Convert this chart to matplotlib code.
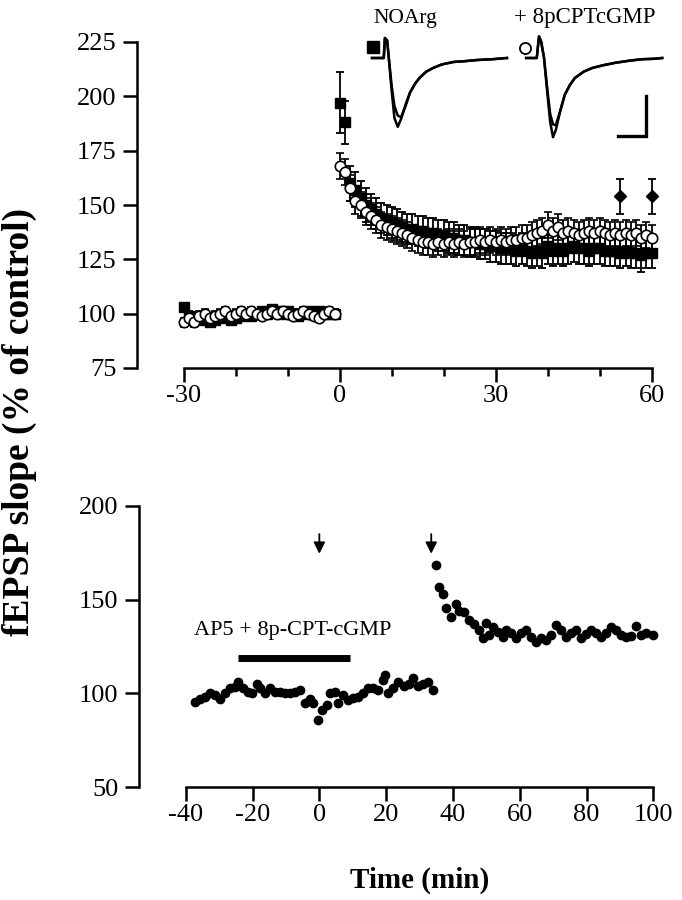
import numpy as np
import matplotlib
matplotlib.use("Agg")
import matplotlib.pyplot as plt

plt.rcParams['font.family'] = ['Liberation Serif', 'DejaVu Serif']
plt.rcParams['axes.unicode_minus'] = False

# ---------------- data: top panel ----------------
base_t = list(range(-30, 0))
sq_base = [103, 99, 97, 98, 97, 96, 97, 98, 99, 97, 98, 99, 100, 99, 100,
           101, 100, 102, 101, 100, 101, 100, 99, 100, 101, 100, 101, 100, 100, 100]
ci_base = [96, 98, 96, 99, 100, 98, 99, 100, 101, 99, 100, 101, 100, 101, 100,
           99, 100, 101, 100, 101, 100, 99, 100, 101, 100, 99, 98, 100, 101, 100]
base_err = [2.0] * 30

post_t = list(range(0, 61))
sq_post = [197, 188, 160, 157, 153, 150, 148, 146, 144, 143, 142, 141, 140, 139, 139,
           138, 138, 137, 137, 136, 136, 135, 135, 134, 134, 133, 133, 132, 132, 131,
           131, 130, 130, 130, 129, 130, 129, 128, 129, 128, 131, 129, 130, 129, 130,
           131, 130, 130, 129, 130, 130, 129, 129, 129, 128, 129, 128, 128, 127, 128, 128]
sq_err = [14, 10, 8, 8, 8, 8, 7, 7, 7, 7, 7, 7, 7, 7, 7,
          7, 7, 7, 7, 7, 7, 7, 7, 7, 7, 7, 7, 7, 7, 7,
          7, 7, 7, 7, 7, 7, 7, 7, 7, 7, 8, 7, 7, 7, 7,
          7, 7, 7, 7, 7, 7, 7, 7, 7, 7, 7, 7, 7, 8, 7, 7]
ci_post = [168, 165, 158, 152, 150, 147, 145, 143, 141, 140, 139, 138, 137, 136, 135,
           134, 133, 133, 132, 133, 132, 133, 132, 133, 132, 133, 133, 134, 133, 134,
           133, 134, 133, 134, 134, 135, 135, 136, 137, 138, 141, 138, 140, 137, 138,
           137, 136, 137, 138, 137, 138, 137, 136, 137, 136, 137, 136, 137, 135, 136, 135]
ci_err = [6] * 61

dia_t = [54, 60]
dia_v = [154, 154]
dia_err = [8, 8]

# example traces (ms, mV)
tr1_t = [-2.5, -0.4, -0.2, 0.2, 0.5, 1.0, 1.5, 2.1, 2.7, 3.5, 4.3, 5.2, 6.1, 7.2, 8.4,
         10, 12, 14, 16.3, 19, 21.6]
tr1_a = [0, 0, 0.25, 0.22, 0.0, -0.40, -0.75, -0.86, -0.76, -0.58, -0.43, -0.32, -0.24,
         -0.17, -0.125, -0.08, -0.05, -0.04, -0.025, -0.015, 0]
tr1_b = [0, 0, 0.25, 0.22, 0.0, -0.34, -0.60, -0.72, -0.74, -0.60, -0.43, -0.32, -0.24,
         -0.17, -0.125, -0.08, -0.05, -0.04, -0.025, -0.015, 0]
tr2_t = [-2.3, -0.4, 0.0, 0.4, 0.9, 1.5, 2.0, 2.5, 3.0, 3.8, 4.6, 5.5, 6.4, 8.0, 9.5,
         11.5, 13.6, 16, 18.4, 20.5, 22]
tr2_a = [0, 0, 0.27, 0.2, 0.0, -0.45, -0.80, -0.99, -0.90, -0.66, -0.46, -0.34, -0.25,
         -0.17, -0.125, -0.09, -0.06, -0.035, -0.015, -0.01, 0]
tr2_b = [0, 0, 0.27, 0.2, 0.0, -0.40, -0.70, -0.83, -0.84, -0.66, -0.46, -0.34, -0.25,
         -0.17, -0.125, -0.09, -0.06, -0.035, -0.015, -0.01, 0]

# ---------------- data: bottom panel ----------------
b1_t = [-37.2, -35.7, -34.2, -32.7, -31.2, -29.7, -28.2, -26.7, -25.2, -24.3, -22.8,
        -21.3, -20.1, -18.6, -17.7, -16.2, -14.7, -13.2, -11.7, -10.2, -8.7, -7.2,
        -5.7, -4.2, -2.7, -1.8, -0.3, 0.9, 2.4, 3.3, 4.8, 5.7, 7.2, 8.7, 10.2, 11.7,
        13.2, 14.7, 16.2, 17.7, 19.2, 19.8, 20.7, 22.2, 23.7, 25.2, 26.7, 27.9, 29.4,
        30.9, 32.4, 33.9]
b1_v = [95.4, 96.8, 97.9, 100, 99, 97, 100, 102.6, 103.3, 106, 103, 100.5, 100, 105,
        102.6, 100, 103, 100.5, 100.5, 100, 100, 100.5, 101.6, 95, 97, 94.6, 85.6, 91,
        93.6, 100, 100.5, 95, 99, 96.3, 97.3, 98, 100, 103, 102.6, 102, 107, 109.6, 100,
        103, 106, 104, 105, 108, 104, 105, 106, 101.6]
b2_t = [34.8, 35.7, 36.9, 37.8, 39.3, 40.8, 41.7, 43.2, 44.7, 46.2, 47.7, 48.9, 49.8,
        50.7, 51.9, 53.4, 54.9, 55.8, 57.3, 58.8, 60.3, 61.8, 63.3, 64.8, 66.3, 67.8,
        69.3, 70.8, 72.3, 73.8, 75.3, 76.8, 78.3, 79.8, 81.3, 82.8, 84.3, 85.8, 87.3,
        88.8, 90.3, 91.8, 93.3, 94.8, 96.3, 97.8, 99.9]
b2_v = [168.3, 156.6, 152.8, 145.4, 140.5, 147.5, 143.8, 143.3, 139, 136.8, 134, 129.3,
        137.3, 131, 135.2, 133, 130, 134, 132, 129.3, 132, 133.6, 130, 127.3, 129.3,
        128.3, 131, 136.3, 133.6, 130, 132, 134, 129.3, 131.5, 134, 132, 130, 132,
        135.2, 133.6, 131, 130, 130.5, 135.7, 131, 132, 131]
arrow_t = [0, 33.5]
bar_start, bar_end, bar_level = -24.5, 9.3, 119

W, H = 682, 900
fig = plt.figure(figsize=(W / 100, H / 100), dpi=100)

def fr(x0, y0, x1, y1):
    return [x0 / W, 1 - y1 / H, (x1 - x0) / W, (y1 - y0) / H]

TICKFS = 19
SP_LW = 1.8

def style(ax):
    for s in ['top', 'right']:
        ax.spines[s].set_visible(False)
    for s in ['left', 'bottom']:
        ax.spines[s].set_linewidth(SP_LW)
    ax.tick_params(direction='out', width=1.8, length=10, labelsize=TICKFS)
    ax.tick_params(which='minor', direction='out', width=1.8, length=5.5)

# ---------- top panel ----------
ax1 = fig.add_axes(fr(137, 42, 662, 368))
style(ax1)
ax1.set_xlim(-39, 62)
ax1.set_ylim(75, 225)
ax1.spines['left'].set_bounds(75, 225)
ax1.spines['bottom'].set_bounds(-30, 60)
ax1.set_yticks([75, 100, 125, 150, 175, 200, 225])
ax1.set_xticks([-30, 0, 30, 60])
ax1.set_xticks([-20, -10, 10, 20, 40, 50], minor=True)
ax1.tick_params(axis='y', pad=5)
ax1.tick_params(axis='x', pad=2)

ekw = dict(ecolor='black', elinewidth=1.3, capsize=3.2, capthick=1.3, linestyle='none')
ax1.errorbar(base_t, sq_base, yerr=base_err, fmt='s', ms=7.5, mfc='black', mec='black', **ekw, zorder=3)
ax1.errorbar(post_t, sq_post, yerr=sq_err, fmt='s', ms=7.5, mfc='black', mec='black', **ekw, zorder=3)
ax1.errorbar(base_t, ci_base, yerr=base_err, fmt='o', ms=7.5, mfc='white', mec='black', mew=1.2, **ekw, zorder=4)
ax1.errorbar(post_t, ci_post, yerr=ci_err, fmt='o', ms=7.5, mfc='white', mec='black', mew=1.2, **ekw, zorder=4)
ax1.errorbar(dia_t, dia_v, yerr=dia_err, fmt='D', ms=6.5, mfc='black', mec='black', **ekw, zorder=5)

# insets with example traces (5.6 px/ms, 80 px/mV)
def trace_ax(stim_x):
    left = stim_x - 3.5 * 5.6
    right = stim_x + 22.5 * 5.6
    top = 58 - 0.35 * 80
    bot = 58 + 1.05 * 80
    a = fig.add_axes(fr(left, top, right, bot))
    a.set_xlim(-3.5, 22.5)
    a.set_ylim(-1.05, 0.35)
    a.axis('off')
    return a

ti1 = trace_ax(386)
ti1.plot(tr1_t, tr1_a, color='black', lw=1.8)
ti1.plot(tr1_t, tr1_b, color='black', lw=1.8)
ti1.plot([-2.3], [0.14], marker='s', ms=8, color='black')
ti2 = trace_ax(539)
ti2.plot(tr2_t, tr2_a, color='black', lw=1.8)
ti2.plot(tr2_t, tr2_b, color='black', lw=1.8)
ti2.plot([-2.5], [0.13], marker='o', ms=8, mfc='white', mec='black', mew=1.3)
ti2.plot([14.1, 19.1, 19.1], [-0.975, -0.975, -0.475], color='black', lw=2.4, solid_joinstyle='miter')

fig.text(405 / W, 1 - 18 / H, 'NOArg', ha='center', va='center', fontsize=15.5)
fig.text(585 / W, 1 - 18 / H, '+ 8pCPTcGMP', ha='center', va='center', fontsize=16.5)

# ---------- bottom panel ----------
ax2 = fig.add_axes(fr(139, 506, 660, 787))
style(ax2)
ax2.set_xlim(-54, 102)
ax2.set_ylim(50, 200)
ax2.spines['left'].set_bounds(50, 200)
ax2.spines['bottom'].set_bounds(-40, 100)
ax2.set_yticks([50, 100, 150, 200])
ax2.set_xticks(list(range(-40, 101, 20)))
ax2.tick_params(axis='y', pad=5)
ax2.tick_params(axis='x', pad=2)
ax2.plot(b1_t, b1_v, 'o', ms=6, color='black')
ax2.plot(b2_t, b2_v, 'o', ms=6, color='black')
for t in arrow_t:
    ax2.annotate('', xy=(t, 174.5), xytext=(t, 185),
                 arrowprops=dict(arrowstyle='-|>', color='black', lw=1.3,
                                 mutation_scale=17, shrinkA=0, shrinkB=0))
ax2.plot([bar_start, bar_end], [bar_level, bar_level], color='black', lw=5, solid_capstyle='butt')
ax2.text((bar_start + bar_end) / 2 - 0.4, 133.5, 'AP5 + 8p-CPT-cGMP', ha='center', va='center', fontsize=16)

fig.text(19 / W, 1 - 422 / H, 'fEPSP slope (% of control)', rotation=90, ha='center', va='center',
         fontsize=27, fontweight='bold')
fig.text(420 / W, 1 - 880 / H, 'Time (min)', ha='center', va='center', fontsize=21, fontweight='bold')

fig.savefig('out.png', dpi=100)
